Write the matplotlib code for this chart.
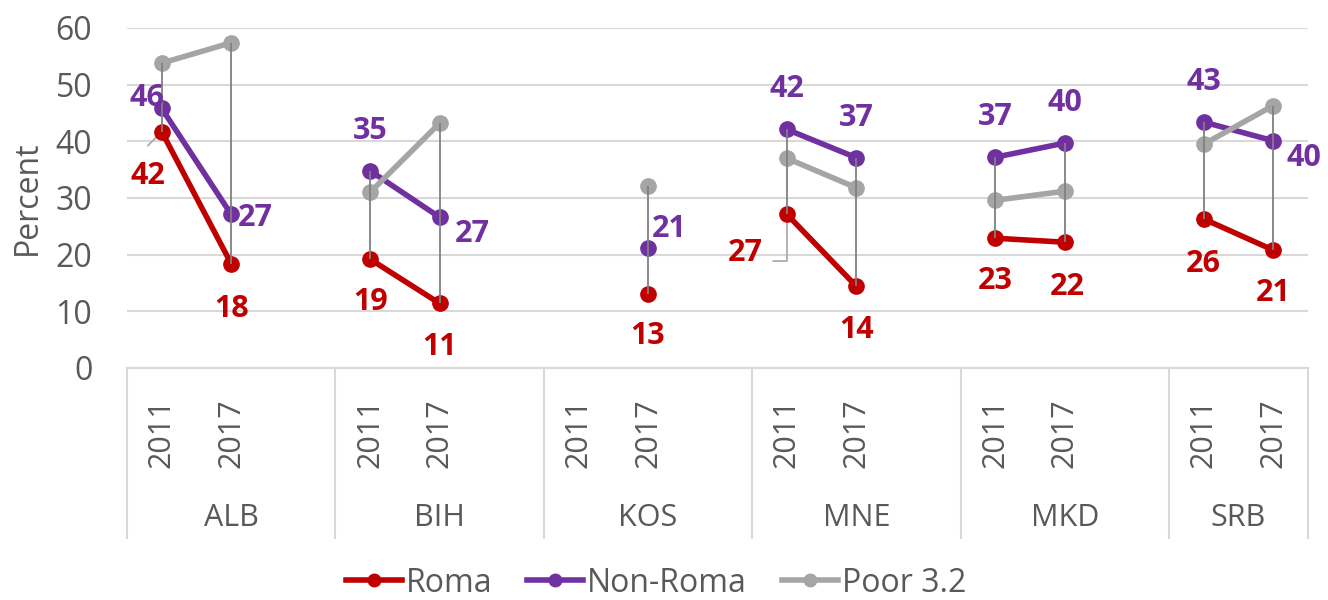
import numpy as np
import matplotlib
matplotlib.use('Agg')
import matplotlib.pyplot as plt
import matplotlib.transforms as mtransforms
from matplotlib.lines import Line2D

plt.rcParams['font.family'] = ['Open Sans', 'DejaVu Sans']

# ── data ──
countries = ['ALB', 'BIH', 'KOS', 'MNE', 'MKD', 'SRB']
years = ['2011', '2017']
roma = [41.7, 18.4, 19.2, 11.4, None, 13.1, 27.1, 14.4, 22.9, 22.2, 26.3, 20.8]
non_roma = [45.8, 27.1, 34.8, 26.6, None, 21.2, 42.1, 37.1, 37.2, 39.7, 43.4, 40.1]
poor = [53.8, 57.4, 31.0, 43.2, None, 32.1, 37.0, 31.8, 29.6, 31.2, 39.5, 46.3]

RED = '#C00000'
PURPLE = '#7030A0'
GRAY = '#A5A5A5'
TXT = '#595959'
GRID = '#D9D9D9'

# ── slots: 2 years + 1 blank per country (no blank after last) ──
xs, ys_r, ys_n, ys_p = [], [], [], []
pos = 0
year_x = []
group_edges = [-0.5]
for ci, c in enumerate(countries):
    for yi in range(2):
        k = ci * 2 + yi
        year_x.append(pos)
        xs.append(pos)
        ys_r.append(np.nan if roma[k] is None else roma[k])
        ys_n.append(np.nan if non_roma[k] is None else non_roma[k])
        ys_p.append(np.nan if poor[k] is None else poor[k])
        pos += 1
    if ci < len(countries) - 1:
        xs.append(pos)
        ys_r.append(np.nan); ys_n.append(np.nan); ys_p.append(np.nan)
        pos += 1
        group_edges.append(pos - 0.5)
group_edges.append(pos - 0.5)
xs = np.array(xs, dtype=float)
ys_r, ys_n, ys_p = np.array(ys_r), np.array(ys_n), np.array(ys_p)

fig = plt.figure(figsize=(13.28, 6), dpi=100)
ax = fig.add_axes([127 / 1328, 1 - 368 / 600, (1308 - 127) / 1328, 340 / 600])
ax.set_xlim(-0.5, pos - 0.5)
ax.set_ylim(0, 60)

for sp in ax.spines.values():
    sp.set_visible(False)
ax.set_yticks(range(0, 61, 10))
ax.tick_params(axis='y', length=0, pad=25, labelsize=23, labelcolor=TXT)
ax.set_xticks([])
ax.grid(axis='y', color=GRID, lw=1.5, zorder=0)
ax.set_axisbelow(True)

kw = dict(lw=4, marker='o', ms=11, solid_capstyle='round')
ax.plot(xs, ys_r, color=RED, zorder=3, **kw)
ax.plot(xs, ys_n, color=PURPLE, zorder=4, **kw)
ax.plot(xs, ys_p, color=GRAY, zorder=5, **kw)

# high-low lines
stack = np.vstack([ys_r, ys_n, ys_p])
for i, x in enumerate(xs):
    col = stack[:, i]
    if np.all(np.isnan(col)):
        continue
    ax.vlines(x, np.nanmin(col), np.nanmax(col), color='#808080', lw=1.3, zorder=6)

# category axis box
tr = mtransforms.blended_transform_factory(ax.transData, ax.transAxes)
ax.plot([-0.5, pos - 0.5], [0, 0], color=GRID, lw=1.5, transform=tr, clip_on=False, zorder=1)
for e in group_edges:
    ax.plot([e, e], [0, -0.5], color=GRID, lw=1.5, transform=tr, clip_on=False)
for k, x in enumerate(year_x):
    ax.text(x, -0.191, years[k % 2], rotation=90, ha='center', va='center',
            fontsize=22, color=TXT, transform=tr)
for ci, c in enumerate(countries):
    cx = (group_edges[ci] + min(group_edges[ci] + 3, pos - 0.5)) / 2
    ax.text(cx, -0.441, c, ha='center', va='center', fontsize=22, color=TXT, transform=tr)

fig.text(27 / 1328, 1 - 198 / 600, 'Percent', rotation=90, ha='center', va='center',
         fontsize=23, color=TXT)

# data labels (offsets in px from point)
roma_off = [(-14, 44), (0, 45), (0, 43), (0, 44), None, (0, 42), (-42, 39), (0, 44),
            (0, 43), (2, 45), (0, 45), (0, 43)]
non_off = [(-15, -10), (24, 4), (0, -40), (33, 17), None, (21, -19), (0, -40), (0, -40),
           (0, -40), (0, -40), (0, -40), (31, 17)]
for vals, offs, color in [(roma, roma_off, RED), (non_roma, non_off, PURPLE)]:
    for k, (v, o) in enumerate(zip(vals, offs)):
        if v is None:
            continue
        ax.annotate(f'{v:.0f}', (year_x[k], v), xytext=(o[0] * 0.72, -o[1] * 0.72),
                    textcoords='offset points', ha='center', va='center',
                    fontsize=22, fontweight='bold', color=color, zorder=7)

# leader lines
ax.annotate('', (year_x[0], roma[0]), xytext=(-14 * 0.72, -14 * 0.72),
            textcoords='offset points',
            arrowprops=dict(arrowstyle='-', color='#A6A6A6', lw=1.2, shrinkA=0, shrinkB=0),
            zorder=2)
ax.annotate('', (year_x[6], roma[6] - 1.5), xytext=(-14 * 0.72, -38 * 0.72),
            textcoords='offset points',
            arrowprops=dict(arrowstyle='-', color='#A6A6A6', lw=1.2, shrinkA=0, shrinkB=0,
                            connectionstyle='angle,angleA=0,angleB=90,rad=0'),
            zorder=2)

handles = [Line2D([], [], color=c, lw=4, marker='o', ms=9) for c in (RED, PURPLE, GRAY)]
fig.legend(handles, ['Roma', 'Non-Roma', 'Poor 3.2'], loc='center', ncol=3,
           bbox_to_anchor=(656 / 1328, 1 - 583 / 600), frameon=False, fontsize=23,
           labelcolor=TXT, handlelength=1.75, handletextpad=0.12, columnspacing=1.1)

plt.savefig('out.png', dpi=100)
plt.close()
